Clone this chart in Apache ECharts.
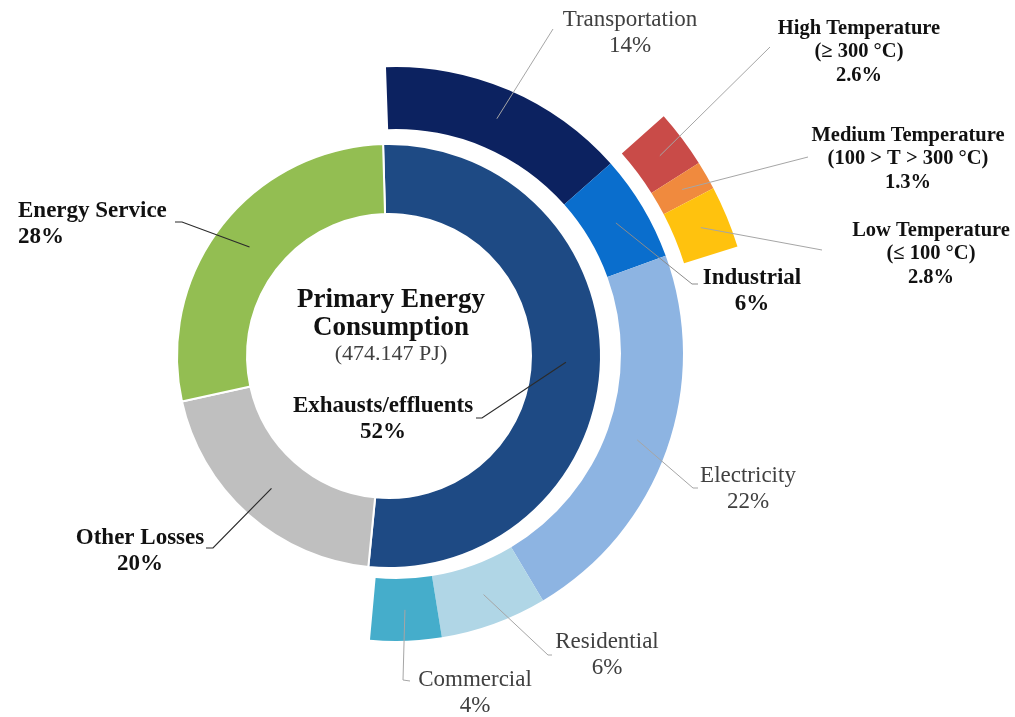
<!DOCTYPE html>
<html>
<head>
<meta charset="utf-8">
<script src="https://cdn.jsdelivr.net/npm/echarts@6/dist/echarts.min.js"></script>
<style>
  html, body { margin: 0; padding: 0; background: #ffffff; }
  #chart { width: 1015px; height: 717px; }
</style>
</head>
<body>
<div id="chart"></div>
<script>
// Use of primary energy (inner ring)
const useNames = ['Exhausts/effluents', 'Other Losses', 'Energy Service'];
const useShares = [52, 20, 28];
const useColors = ['#1E4A84', '#BFBFBF', '#93BE52'];

// Exhausts/effluents broken down by sector (middle ring)
const sectorNames = ['Transportation', 'Industrial', 'Electricity', 'Residential', 'Commercial'];
const sectorShares = [14, 6, 22, 6, 4];
const sectorColors = ['#0C2260', '#0A6ECD', '#8DB4E2', '#B0D6E6', '#45ADCB'];

// Industrial waste heat by temperature level (outer ring)
const heatNames = ['High Temperature', 'Medium Temperature', 'Low Temperature'];
const heatRanges = ['(\u2265 300 \u00B0C)', '(100 > T > 300 \u00B0C)', '(\u2264 100 \u00B0C)'];
const heatShares = [2.6, 1.3, 2.8];
const heatColors = ['#C94B48', '#F08A3E', '#FFC20E'];

const centerTitle = ['Primary Energy', 'Consumption'];
const centerTotal = '(474.147 PJ)';

// Ring geometry (pixels)
const INNER = { center: [389, 356], radius: [142, 212], start: 91.6 };
const MIDDLE = { center: [396, 354], radius: [225, 287], start: 92 };
const OUTER = { center: [396, 354], radius: [302, 358], start: 92 };

// Label placement: text anchor, bend/end of each leader line and its stroke
const DARK_LINE = { stroke: '#2b2b2b', lineWidth: 1.2 };
const GREY_LINE = { stroke: '#a6a6a6', lineWidth: 1 };
const MID_LINE = { stroke: '#8c8c8c', lineWidth: 1 };
const labelPlacement = {
  'Exhausts/effluents': { x: 383, y: 419, align: 'center', line: [[482, 418], [476, 418]], style: DARK_LINE },
  'Other Losses':       { x: 140, y: 551, align: 'center', line: [[213, 548], [206, 548]], style: DARK_LINE },
  'Energy Service':     { x: 18,  y: 224, align: 'left',   line: [[182, 222], [175, 222]], style: DARK_LINE },
  'Transportation':     { x: 630, y: 33,  align: 'center', line: [[553, 29]], style: GREY_LINE },
  'Industrial':         { x: 752, y: 291, align: 'center', line: [[692, 284], [698, 284]], style: MID_LINE },
  'Electricity':        { x: 748, y: 489, align: 'center', line: [[693, 488], [698, 488]], style: GREY_LINE },
  'Residential':        { x: 607, y: 655, align: 'center', line: [[548, 655], [552, 655]], style: GREY_LINE },
  'Commercial':         { x: 475, y: 693, align: 'center', line: [[403, 680], [410, 681]], style: GREY_LINE },
  'High Temperature':   { x: 859, y: 52,  align: 'center', line: [[770, 47]], style: GREY_LINE },
  'Medium Temperature': { x: 908, y: 159, align: 'center', line: [[808, 157]], style: GREY_LINE },
  'Low Temperature':    { x: 931, y: 254, align: 'center', line: [[822, 250]], style: GREY_LINE }
};

const FONT = "'Liberation Serif', 'Times New Roman', serif";
const sum = (arr) => arr.reduce((a, b) => a + b, 0);
const BLANK = 'rgba(0,0,0,0)';

// Middle point of a slice (mid angle, mid radius) computed from the ring's values
function sliceMid(ring, values, i) {
  const total = sum(values);
  let before = 0;
  for (let k = 0; k < i; k++) before += values[k];
  const frac = (before + values[i] / 2) / total;
  const phi = ((90 - ring.start) + 360 * frac) * Math.PI / 180;
  const r = (ring.radius[0] + ring.radius[1]) / 2;
  return [ring.center[0] + r * Math.sin(phi), ring.center[1] - r * Math.cos(phi)];
}

function fmtPct(v) { return v + '%'; }

function blankItem(value) {
  return {
    value: value,
    name: '',
    itemStyle: { color: BLANK, borderWidth: 0 },
    label: { show: false },
    emphasis: { disabled: true }
  };
}

const boldLabel = { fontWeight: 'bold', color: '#111111', fontSize: 23, lineHeight: 26 };
const plainLabel = { fontWeight: 'normal', color: '#404040', fontSize: 23, lineHeight: 26 };

// Inner ring data
const innerValues = useShares.slice();
const innerData = useNames.map((n, i) => ({
  value: useShares[i], name: n,
  itemStyle: { color: useColors[i] },
  label: boldLabel
}));

// Middle ring data: sectors plus an empty remainder
const middleValues = sectorShares.concat([100 - sum(sectorShares)]);
const middleData = sectorNames.map((n, i) => ({
  value: sectorShares[i], name: n,
  itemStyle: { color: sectorColors[i] },
  label: n === 'Industrial' ? boldLabel : plainLabel
})).concat([blankItem(100 - sum(sectorShares))]);

// Outer ring: starts where Transportation ends, sits over Industrial
const outerValues = [sectorShares[0]].concat(heatShares, [100 - sectorShares[0] - sum(heatShares)]);
const outerData = [blankItem(sectorShares[0])].concat(
  heatNames.map((n, i) => ({
    value: heatShares[i], name: n,
    itemStyle: { color: heatColors[i] },
    label: { fontWeight: 'bold', color: '#111111', fontSize: 20.5, lineHeight: 23.5 }
  })),
  [blankItem(100 - sectorShares[0] - sum(heatShares))]
);

function makeLayout(data) {
  return function (params) {
    const place = labelPlacement[data[params.dataIndex].name];
    if (!place) return {};
    return { x: place.x, y: place.y, align: place.align, verticalAlign: 'middle' };
  };
}

function ringSeries(ring, data, formatter, border) {
  return {
    type: 'pie',
    center: ring.center,
    radius: ring.radius,
    startAngle: ring.start,
    clockwise: true,
    avoidLabelOverlap: false,
    silent: true,
    animation: false,
    itemStyle: border ? { borderColor: '#ffffff', borderWidth: 2 } : { borderWidth: 0 },
    label: {
      show: true,
      position: 'outside',
      fontFamily: FONT,
      formatter: formatter
    },
    labelLine: { show: false },
    labelLayout: makeLayout(data),
    emphasis: { disabled: true },
    data: data
  };
}

// Leader lines: from the middle of each slice to its label
function leaderLines(ring, values, data) {
  const out = [];
  data.forEach((item, i) => {
    const place = labelPlacement[item.name];
    if (!place) return;
    out.push({
      type: 'polyline',
      silent: true,
      z: 50,
      shape: { points: [sliceMid(ring, values, i)].concat(place.line) },
      style: Object.assign({ fill: null }, place.style)
    });
  });
  return out;
}

const chart = echarts.init(document.getElementById('chart'), null, { renderer: 'canvas' });

chart.setOption({
  backgroundColor: '#ffffff',
  animation: false,
  series: [
    ringSeries(INNER, innerData, (p) => p.name + '\n' + fmtPct(p.value), true),
    ringSeries(MIDDLE, middleData, (p) => p.name + '\n' + fmtPct(p.value), false),
    ringSeries(OUTER, outerData, (p) => {
      const k = heatNames.indexOf(p.name);
      return p.name + '\n' + heatRanges[k] + '\n' + fmtPct(p.value);
    }, false)
  ],
  graphic: [].concat(
    leaderLines(INNER, innerValues, innerData),
    leaderLines(MIDDLE, middleValues, middleData),
    leaderLines(OUTER, outerValues, outerData),
    [
      {
        type: 'text', x: 391, y: 300, silent: true, z: 50,
        style: { text: centerTitle[0], font: "bold 27px 'Liberation Serif', serif", fill: '#111111', align: 'center', verticalAlign: 'middle' }
      },
      {
        type: 'text', x: 391, y: 328, silent: true, z: 50,
        style: { text: centerTitle[1], font: "bold 27px 'Liberation Serif', serif", fill: '#111111', align: 'center', verticalAlign: 'middle' }
      },
      {
        type: 'text', x: 391, y: 354, silent: true, z: 50,
        style: { text: centerTotal, font: "22px 'Liberation Serif', serif", fill: '#404040', align: 'center', verticalAlign: 'middle' }
      }
    ]
  )
});
</script>
</body>
</html>
